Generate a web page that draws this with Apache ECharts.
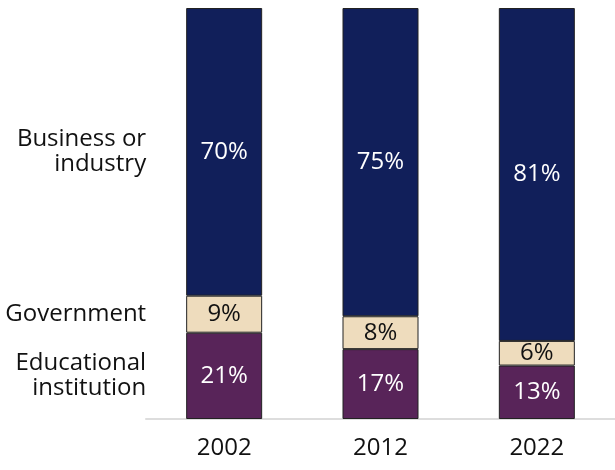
<!DOCTYPE html>
<html>
<head>
<meta charset="utf-8">
<script src="https://cdn.jsdelivr.net/npm/echarts@6/dist/echarts.min.js"></script>
<style>html,body{margin:0;padding:0;background:#fff}#c{width:615px;height:470px}</style>
</head>
<body>
<div id="c"></div>
<script>
const years = ['2002', '2012', '2022'];
const seriesNames = ['Educational institution', 'Government', 'Business or industry'];
const leftLabels = ['Educational\ninstitution', 'Government', 'Business or\nindustry'];
const educational = [21, 17, 13];
const government = [9, 8, 6];
const business = [70, 75, 81];
const colors = ['#582459', '#eedcbd', '#111f5a'];
const labelColors = ['#ffffff', '#111111', '#ffffff'];
const values = [educational, government, business];

const FONT = '"Open Sans", sans-serif';
const series = [];
values.forEach((vals, i) => {
  series.push({
    name: seriesNames[i],
    type: 'bar',
    stack: 'main',
    barWidth: 76,
    data: vals,
    itemStyle: { color: colors[i], borderColor: '#222222', borderWidth: 1 },
    label: {
      show: true, position: 'inside',
      formatter: p => p.value + '%',
      color: labelColors[i], fontFamily: FONT, fontSize: 24
    },
    emphasis: { disabled: true }
  });
});
// ghost stack carrying the category names next to the first bar
values.forEach((vals, i) => {
  series.push({
    name: seriesNames[i] + ' label',
    type: 'bar',
    stack: 'ghost',
    barWidth: 76,
    barGap: '-100%',
    silent: true,
    data: vals.map((v, j) => ({
      value: v,
      label: j === 0 ? {
        show: true, position: 'left', distance: 40,
        formatter: () => leftLabels[i],
        align: 'right', color: '#111111', fontFamily: FONT, fontSize: 24, lineHeight: 25
      } : { show: false }
    })),
    itemStyle: { color: 'rgba(0,0,0,0)' },
    z: 1
  });
});

const chart = echarts.init(document.getElementById('c'), null, { renderer: 'canvas' });
chart.setOption({
  animation: false,
  backgroundColor: '#ffffff',
  grid: { left: 146, right: -4, top: 8, bottom: 51, containLabel: false },
  xAxis: {
    type: 'category',
    data: years,
    axisLine: { show: true, lineStyle: { color: '#dddddd', width: 2 } },
    axisTick: { show: false },
    axisLabel: { color: '#111111', fontFamily: FONT, fontSize: 24, margin: 17 }
  },
  yAxis: {
    type: 'value', min: 0, max: 100, interval: 20,
    show: false,
    splitLine: { show: false }
  },
  series: series
});
</script>
</body>
</html>
